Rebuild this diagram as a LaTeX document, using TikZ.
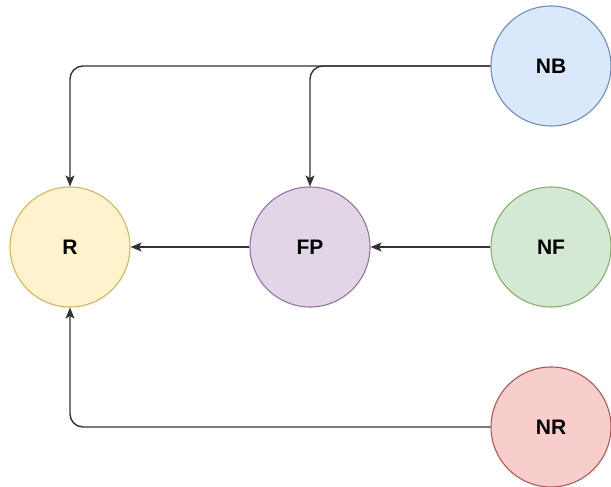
\documentclass[tikz,border=0pt]{standalone}
\usepackage{fontspec}
\setmainfont{Liberation Sans}
\usetikzlibrary{arrows.meta}
\definecolor{bfill}{HTML}{DAE8FC}\definecolor{bdraw}{HTML}{6C8EBF}
\definecolor{yfill}{HTML}{FFF2CC}\definecolor{ydraw}{HTML}{D6B656}
\definecolor{pfill}{HTML}{E1D5E7}\definecolor{pdraw}{HTML}{9673A6}
\definecolor{gfill}{HTML}{D5E8D4}\definecolor{gdraw}{HTML}{82B366}
\definecolor{rfill}{HTML}{F8CECC}\definecolor{rdraw}{HTML}{B85450}
\definecolor{linec}{HTML}{333333}
\tikzset{
  circ/.style={circle, minimum size=120pt, inner sep=0pt, line width=1.1pt, font=\fontsize{21}{24}\selectfont\bfseries},
  conn/.style={draw=linec, line width=1.4pt, rounded corners=13pt, -{Stealth[length=11pt,width=9pt,inset=2.5pt]}}
}
\begin{document}
\begin{tikzpicture}[x=1pt,y=-1pt]
\useasboundingbox (0,0) rectangle (611,487);
\node[circ, fill=yfill, draw=ydraw] (R) at (70,247) {R};
\node[circ, fill=pfill, draw=pdraw] (FP) at (310,247) {FP};
\node[circ, fill=gfill, draw=gdraw] (NF) at (551,247) {NF};
\node[circ, fill=bfill, draw=bdraw] (NB) at (551,66) {NB};
\node[circ, fill=rfill, draw=rdraw] (NR) at (551,427) {NR};
\draw[conn] (NB.west) -| (R.north);
\draw[conn] (NB.west) -| (FP.north);
\draw[conn] (NR.west) -| (R.south);
\draw[conn] (FP.west) -- (R.east);
\draw[conn] (NF.west) -- (FP.east);
\end{tikzpicture}
\end{document}
